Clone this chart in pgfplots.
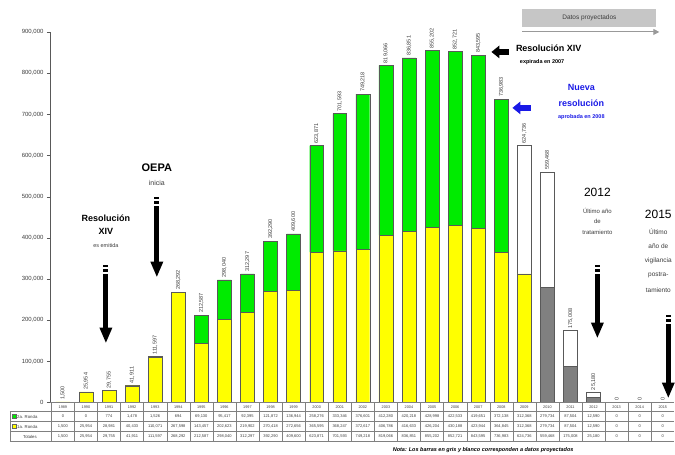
\documentclass[border=0pt]{standalone}
\usepackage{pgfplots}
\pgfplotsset{compat=1.18}
\usepackage{pgfplotstable}
\usepackage{fontspec}
\setmainfont{Liberation Sans}
\usetikzlibrary{arrows.meta}
\definecolor{byellow}{RGB}{255,255,0}
\definecolor{bgreen}{RGB}{0,235,0}
\definecolor{bgrey}{RGB}{128,128,128}
\definecolor{nblue}{RGB}{25,25,230}
\definecolor{txt}{RGB}{60,60,60}
\pgfplotstableread{
yr a b c d t lab
1989 1500 0 0 0 1500 1,500
1990 25954 0 0 0 25954 25,954
1991 28981 0 774 0 29755 29,755
1992 40433 0 1478 0 41911 41,911
1993 110071 0 1526 0 111597 111,597
1994 267598 0 694 0 268292 268,292
1995 143457 0 69130 0 212587 212,587
1996 202623 0 95417 0 298040 298,040
1997 219902 0 92395 0 312297 312,297
1998 270418 0 121872 0 392290 392,290
1999 272656 0 136944 0 409600 409,600
2000 365595 0 258276 0 623871 623,871
2001 368247 0 333346 0 701593 701,593
2002 372617 0 376601 0 749218 749,218
2003 406786 0 412280 0 819066 819,066
2004 416633 0 420218 0 836851 836,851
2005 426204 0 428998 0 855202 855,202
2006 430188 0 422533 0 852721 852,721
2007 423944 0 419651 0 843595 843,595
2008 364845 0 372138 0 736983 736,983
2009 312368 0 0 312368 624736 624,736
2010 0 279734 0 279734 559468 559,468
2011 0 87504 0 87504 175008 175,008
2012 0 12590 0 12590 25180 25,180
2013 0 0 0 0 0 0
2014 0 0 0 0 0 0
2015 0 0 0 0 0 0
}\data
\newcommand{\bigdownarrow}[3]{%
 \fill (#1-2.6,#2) rectangle (#1+2.6,#2+2.5);
 \fill (#1-2.6,#2+4.5) rectangle (#1+2.6,#2+7);
 \fill (#1-2.6,#2+9) rectangle (#1+2.6,#3-15);
 \fill (#1-6.5,#3-15) -- (#1+6.5,#3-15) -- (#1,#3) -- cycle;}
\pgfplotsset{geom/.style={at={(0,0)}, anchor=south west,
  scale only axis, width=625pt, height=371pt,
  xmin=1988.44, xmax=2015.5, ymin=0, ymax=900000, clip=false}}
\begin{document}
\begin{tikzpicture}
\begin{scope}[x=1pt,y=-1pt,shift={(-50pt,403pt)}]
\useasboundingbox (0,0) rectangle (675,455);
\end{scope}
\begin{axis}[
  geom,
  axis y line=left, axis x line=none,
  axis line style={-, draw=gray!70!black},
  xtick=\empty,
  ytick={0,100000,...,900000},
  scaled y ticks=false,
  tick align=outside, major tick length=3pt,
  tick style={draw=gray!70!black},
  yticklabel style={font=\fontsize{6}{7}\selectfont, text=txt,
    /pgf/number format/.cd, fixed, 1000 sep={,}, assume math mode=true},
  ybar stacked, bar width=0.6,
]
\addplot[fill=byellow, draw=black!65, line width=0.4pt] table[x=yr,y=a]{\data};
\addplot[fill=bgrey, draw=black!65, line width=0.4pt] table[x=yr,y=b]{\data};
\addplot[fill=bgreen, draw=black!65, line width=0.4pt] table[x=yr,y=c]{\data};
\addplot[fill=white, draw=black!65, line width=0.4pt] table[x=yr,y=d]{\data};
\end{axis}
\begin{axis}[geom, hide axis]
\addplot[only marks, mark=none, draw=none,
  nodes near coords, point meta=explicit symbolic,
  every node near coord/.append style={rotate=90, anchor=west, inner sep=2pt,
    font=\fontsize{5.5}{6}\selectfont, text=txt}]
  table[x=yr,y=t,meta=lab]{\data};
\end{axis}
\begin{scope}[x=1pt,y=-1pt,shift={(-50pt,403pt)}]
% table grid
\draw[gray, line width=0.3pt] (50,403) -- (675,403);
\draw[gray, line width=0.3pt] (10,412) -- (675,412);
\draw[gray, line width=0.3pt] (10,422) -- (675,422);
\draw[gray, line width=0.3pt] (10,432) -- (675,432);
\draw[gray, line width=0.3pt] (10,442) -- (675,442);
\draw[gray, line width=0.3pt] (10,412) -- (10,442);
\foreach \i in {0,...,26} {
  \draw[gray, line width=0.3pt] ({50+(\i+0.06)*23.097},403) -- ({50+(\i+0.06)*23.097},442);
}
\fill[bgreen, draw=black!60, line width=0.2pt] (12,415) rectangle (16,419);
\fill[byellow, draw=black!60, line width=0.2pt] (12,425) rectangle (16,429);
\node[anchor=west, font=\fontsize{4.3}{5}\selectfont, text=txt, inner sep=0] at (17,417) {2a. Ronda};
\node[anchor=west, font=\fontsize{4.3}{5}\selectfont, text=txt, inner sep=0] at (17,427) {1a. Ronda};
\node[font=\fontsize{4.3}{5}\selectfont, text=txt, inner sep=0] at (30,437) {Totales};
\foreach \i/\yr/\rb/\ra/\tot in {0/1989/0/{1,500}/{1,500},
1/1990/0/{25,954}/{25,954},
2/1991/774/{28,981}/{29,755},
3/1992/{1,478}/{40,433}/{41,911},
4/1993/{1,526}/{110,071}/{111,597},
5/1994/694/{267,598}/{268,292},
6/1995/{69,130}/{143,457}/{212,587},
7/1996/{95,417}/{202,623}/{298,040},
8/1997/{92,395}/{219,902}/{312,297},
9/1998/{121,872}/{270,418}/{392,290},
10/1999/{136,944}/{272,656}/{409,600},
11/2000/{258,276}/{365,595}/{623,871},
12/2001/{333,346}/{368,247}/{701,593},
13/2002/{376,601}/{372,617}/{749,218},
14/2003/{412,280}/{406,786}/{819,066},
15/2004/{420,218}/{416,633}/{836,851},
16/2005/{428,998}/{426,204}/{855,202},
17/2006/{422,533}/{430,188}/{852,721},
18/2007/{419,651}/{423,944}/{843,595},
19/2008/{372,138}/{364,845}/{736,983},
20/2009/{312,368}/{312,368}/{624,736},
21/2010/{279,734}/{279,734}/{559,468},
22/2011/{87,504}/{87,504}/{175,008},
23/2012/{12,590}/{12,590}/{25,180},
24/2013/0/0/0,
25/2014/0/0/0,
26/2015/0/0/0} {
  \node[font=\fontsize{3.8}{4}\selectfont, text=txt, inner sep=0] at ({50+(\i+0.56)*23.097},407.5) {\yr};
  \node[font=\fontsize{4}{4.5}\selectfont, text=txt, inner sep=0] at ({50+(\i+0.56)*23.097},417) {\rb};
  \node[font=\fontsize{4}{4.5}\selectfont, text=txt, inner sep=0] at ({50+(\i+0.56)*23.097},427) {\ra};
  \node[font=\fontsize{4}{4.5}\selectfont, text=txt, inner sep=0] at ({50+(\i+0.56)*23.097},437) {\tot};
}
\node[anchor=west, font=\bfseries\itshape\fontsize{5.5}{6}\selectfont, inner sep=0] at (393,451) {Nota: Los barras en gris y blanco corresponden a datos proyectados};
% annotations
\node[font=\bfseries\fontsize{9}{10}\selectfont] at (106,218) {Resolución};
\node[font=\bfseries\fontsize{9}{10}\selectfont] at (106,232) {XIV};
\node[font=\fontsize{5.5}{6}\selectfont, text=txt] at (106,246) {es emitida};
\bigdownarrow{106}{265}{343}
\node[font=\bfseries\fontsize{11}{12}\selectfont] at (157,168) {OEPA};
\node[font=\fontsize{7}{8}\selectfont, text=txt] at (157,183) {inicia};
\bigdownarrow{157}{197}{277}
\node[anchor=west, font=\bfseries\fontsize{9}{10}\selectfont] at (513,48) {Resolución XIV};
\node[anchor=west, font=\bfseries\fontsize{5.5}{6}\selectfont] at (517,62) {expirada en 2007};
\fill (510,49) rectangle (500,55);
\fill (500,45.5) -- (500,58.5) -- (492,52) -- cycle;
\node[font=\bfseries\fontsize{9}{10}\selectfont, text=nblue] at (582,88) {Nueva};
\node[font=\bfseries\fontsize{9}{10}\selectfont, text=nblue] at (582,103) {resolución};
\node[font=\bfseries\fontsize{5.5}{6}\selectfont, text=nblue] at (582,117) {aprobada en 2008};
\fill[nblue] (532,105) rectangle (521,111);
\fill[nblue] (521,101.5) -- (521,114.5) -- (513,108) -- cycle;
\fill[gray!45] (523,9) rectangle (657,27);
\node[font=\fontsize{6.5}{7}\selectfont, text=txt] at (590,18) {Datos proyectados};
\draw[gray!80, line width=1pt, -{Triangle[width=6pt,length=6pt]}] (523,32) -- (660,32);
\node[font=\fontsize{12}{13}\selectfont] at (598,193) {2012};
\node[font=\fontsize{6}{7}\selectfont, text=txt] at (598,211) {Último año};
\node[font=\fontsize{6}{7}\selectfont, text=txt] at (598,222) {de};
\node[font=\fontsize{6}{7}\selectfont, text=txt] at (598,233) {tratamiento};
\bigdownarrow{598}{265}{338}
\node[font=\fontsize{12}{13}\selectfont] at (659,215) {2015};
\node[font=\fontsize{6.5}{7}\selectfont, text=txt] at (659,232) {Último};
\node[font=\fontsize{6.5}{7}\selectfont, text=txt] at (659,246) {año de};
\node[font=\fontsize{6.5}{7}\selectfont, text=txt] at (659,261) {vigilancia};
\node[font=\fontsize{6.5}{7}\selectfont, text=txt] at (659,275) {postra-};
\node[font=\fontsize{6.5}{7}\selectfont, text=txt] at (659,290) {tamiento};
\bigdownarrow{669}{315}{398}
\end{scope}
\end{tikzpicture}
\end{document}
